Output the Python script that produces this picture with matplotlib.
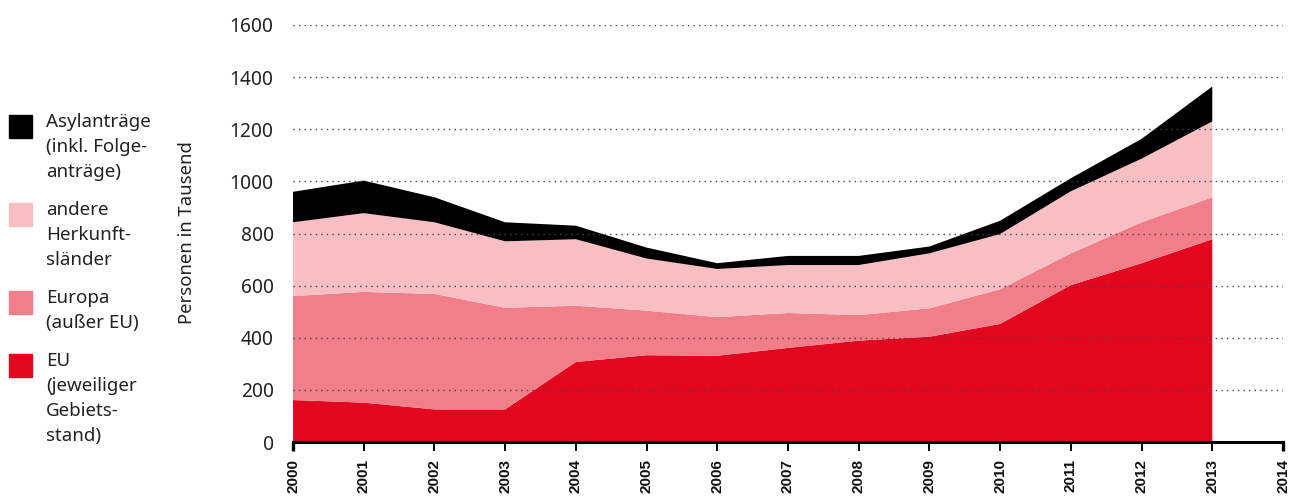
import matplotlib
matplotlib.use("Agg")
import matplotlib.pyplot as plt
import numpy as np

plt.rcParams['font.family'] = ['Noto Sans', 'DejaVu Sans']

years = [2000, 2001, 2002, 2003, 2004, 2005, 2006, 2007, 2008, 2009, 2010, 2011, 2012, 2013]
eu = [161, 151, 125, 125, 307, 333, 331, 361, 389, 404, 453, 602, 686, 778]
europa = [399, 425, 443, 390, 216, 171, 148, 134, 98, 109, 133, 122, 157, 161]
andere = [283, 302, 275, 255, 255, 200, 185, 184, 192, 211, 212, 238, 244, 291]
asyl = [117, 125, 96, 73, 52, 42, 22, 35, 35, 26, 51, 50, 76, 134]

series = [eu, europa, andere, asyl]
colors = ['#E2061F', '#F07F8A', '#F7BFC4', '#000000']
legend_labels = ["Asylanträge\n(inkl. Folge-\nanträge)",
                 "andere\nHerkunft-\nsländer",
                 "Europa\n(außer EU)",
                 "EU\n(jeweiliger\nGebiets-\nstand)"]
legend_colors = ['#000000', '#F7BFC4', '#F07F8A', '#E2061F']
y_ticks = [0, 200, 400, 600, 800, 1000, 1200, 1400, 1600]
x_ticks = list(range(2000, 2015))
ylabel = "Personen in Tausend"

W, H = 1294, 497
fig = plt.figure(figsize=(W / 100, H / 100), dpi=100)
ax = fig.add_axes([293 / W, 1 - 442 / H, (1283 - 293) / W, (442 - 25) / H])

ax.stackplot(years, *series, colors=colors, linewidth=0, antialiased=True)

ax.set_xlim(2000, 2014)
ax.set_ylim(0, 1600)
ax.set_yticks(y_ticks)
ax.set_xticks(x_ticks)
ax.set_xticklabels([str(x) for x in x_ticks], rotation=90, fontweight='bold',
                   fontsize=11, color='#111111',
                   family=['Liberation Sans', 'DejaVu Sans'])
ax.set_yticklabels([str(y) for y in y_ticks], fontsize=13.8, color='#222222')

for s in ['left', 'right', 'top']:
    ax.spines[s].set_visible(False)
ax.spines['bottom'].set_linewidth(2.2)
ax.spines['bottom'].set_zorder(5)
ax.tick_params(axis='y', length=0, pad=14)
ax.tick_params(axis='x', direction='out', length=6.5, width=1.4, pad=5.5, color='#000000')
xt = ax.xaxis.get_major_ticks()
for t in (xt[0], xt[-1]):
    t.tick1line.set_markeredgewidth(2.4)

ax.set_axisbelow(False)
ax.yaxis.grid(True, linestyle=(0, (1, 3)), linewidth=1.0, color='#444444')
ax.xaxis.grid(False)

# y label
fig.text(187 / W, 1 - 233 / H, ylabel, rotation=90, ha='center', va='center',
         fontsize=13.3, color='#222222')

# legend
sq_tops = [115, 203, 291, 354]
for lab, col, top in zip(legend_labels, legend_colors, sq_tops):
    fig.patches.append(plt.Rectangle((9 / W, 1 - (top + 23) / H), 23 / W, 23 / H,
                                     transform=fig.transFigure, color=col, figure=fig))
    fig.text(46 / W, 1 - (top - 2) / H, lab, ha='left', va='top', fontsize=13.5,
             color='#222222', linespacing=1.5)

fig.savefig("out.png", dpi=100)
